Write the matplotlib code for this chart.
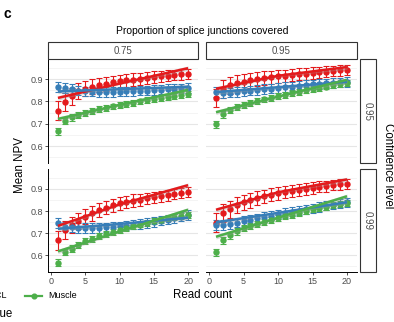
import numpy as np
import matplotlib.pyplot as plt
from matplotlib.lines import Line2D
from matplotlib.patches import Rectangle

plt.rcParams['font.family'] = ['Liberation Sans', 'DejaVu Sans']

read_count = np.arange(1, 21)
tissues = ["Fibroblast", "LCL", "Muscle"]
colors = ["#E41A1C", "#377EB8", "#4DAF4A"]
junction_levels = ["0.75", "0.95"]
confidence_levels = ["0.95", "0.99"]

# mean NPV per read count, confidence 0.95
fib_c95_j75 = [0.759, 0.797, 0.823, 0.845, 0.857, 0.866, 0.873, 0.879, 0.885, 0.890,
               0.894, 0.898, 0.902, 0.906, 0.909, 0.912, 0.915, 0.918, 0.921, 0.924]
lcl_c95_j75 = [0.866, 0.862, 0.855, 0.849, 0.846, 0.844, 0.843, 0.843, 0.843, 0.844,
               0.845, 0.846, 0.848, 0.849, 0.851, 0.853, 0.855, 0.857, 0.859, 0.861]
mus_c95_j75 = [0.666, 0.713, 0.729, 0.739, 0.750, 0.759, 0.766, 0.772, 0.778, 0.784,
               0.790, 0.795, 0.800, 0.805, 0.810, 0.815, 0.820, 0.825, 0.830, 0.835]
fib_c95_j95 = [0.816, 0.855, 0.872, 0.882, 0.889, 0.895, 0.900, 0.904, 0.908, 0.912,
               0.915, 0.918, 0.921, 0.924, 0.927, 0.930, 0.933, 0.936, 0.939, 0.942]
lcl_c95_j95 = [0.843, 0.838, 0.840, 0.843, 0.846, 0.849, 0.852, 0.855, 0.858, 0.861,
               0.864, 0.867, 0.870, 0.873, 0.876, 0.878, 0.881, 0.883, 0.885, 0.887]
mus_c95_j95 = [0.698, 0.743, 0.762, 0.774, 0.785, 0.793, 0.801, 0.809, 0.816, 0.823,
               0.830, 0.837, 0.844, 0.850, 0.856, 0.862, 0.867, 0.872, 0.877, 0.882]

# mean NPV per read count, confidence 0.99
fib_c99_j75 = [0.668, 0.714, 0.737, 0.755, 0.775, 0.790, 0.805, 0.816, 0.826, 0.835,
               0.841, 0.847, 0.852, 0.857, 0.862, 0.867, 0.872, 0.877, 0.882, 0.887]
lcl_c99_j75 = [0.745, 0.730, 0.726, 0.724, 0.723, 0.723, 0.724, 0.726, 0.728, 0.731,
               0.734, 0.738, 0.742, 0.746, 0.751, 0.756, 0.762, 0.768, 0.775, 0.782]
mus_c99_j75 = [0.567, 0.615, 0.630, 0.648, 0.664, 0.675, 0.686, 0.696, 0.705, 0.714,
               0.723, 0.731, 0.739, 0.747, 0.755, 0.761, 0.767, 0.773, 0.778, 0.783]
fib_c99_j95 = [0.748, 0.790, 0.809, 0.826, 0.839, 0.849, 0.858, 0.866, 0.874, 0.881,
               0.886, 0.891, 0.896, 0.900, 0.905, 0.909, 0.913, 0.917, 0.921, 0.924]
lcl_c99_j95 = [0.737, 0.738, 0.742, 0.748, 0.755, 0.761, 0.767, 0.773, 0.780, 0.786,
               0.791, 0.797, 0.802, 0.808, 0.813, 0.818, 0.824, 0.829, 0.834, 0.839]
mus_c99_j95 = [0.615, 0.668, 0.691, 0.708, 0.722, 0.732, 0.742, 0.751, 0.760, 0.768,
               0.776, 0.784, 0.792, 0.800, 0.808, 0.814, 0.820, 0.826, 0.831, 0.836]

# error bar half-widths per tissue
fib_err = [0.042, 0.040, 0.038, 0.036, 0.034, 0.033, 0.032, 0.031, 0.030, 0.029,
           0.028, 0.028, 0.027, 0.026, 0.026, 0.025, 0.025, 0.024, 0.024, 0.023]
lcl_err = [0.022, 0.022, 0.022, 0.021, 0.021, 0.021, 0.021, 0.021, 0.021, 0.021,
           0.021, 0.021, 0.021, 0.021, 0.021, 0.021, 0.021, 0.021, 0.021, 0.021]
mus_err = [0.016, 0.015, 0.015, 0.014, 0.014, 0.014, 0.014, 0.013, 0.013, 0.013,
           0.013, 0.013, 0.013, 0.013, 0.013, 0.013, 0.013, 0.013, 0.013, 0.013]

# smoothed trend, evaluated at read counts 1, 10 and 20
fit_x = [1, 10, 20]
fit_band = [0.010, 0.005, 0.010]
fib_fit_c95_j75 = [0.816, 0.880, 0.949]
lcl_fit_c95_j75 = [0.845, 0.855, 0.866]
mus_fit_c95_j75 = [0.722, 0.785, 0.852]
fib_fit_c95_j95 = [0.857, 0.915, 0.954]
lcl_fit_c95_j95 = [0.842, 0.864, 0.888]
mus_fit_c95_j95 = [0.752, 0.822, 0.897]
fib_fit_c99_j75 = [0.733, 0.830, 0.917]
lcl_fit_c99_j75 = [0.720, 0.742, 0.770]
mus_fit_c99_j75 = [0.618, 0.708, 0.806]
fib_fit_c99_j95 = [0.806, 0.885, 0.943]
lcl_fit_c99_j95 = [0.749, 0.792, 0.840]
mus_fit_c99_j95 = [0.684, 0.770, 0.867]

means = {
    (0, 0): [fib_c95_j75, lcl_c95_j75, mus_c95_j75],
    (0, 1): [fib_c95_j95, lcl_c95_j95, mus_c95_j95],
    (1, 0): [fib_c99_j75, lcl_c99_j75, mus_c99_j75],
    (1, 1): [fib_c99_j95, lcl_c99_j95, mus_c99_j95],
}
fits = {
    (0, 0): [fib_fit_c95_j75, lcl_fit_c95_j75, mus_fit_c95_j75],
    (0, 1): [fib_fit_c95_j95, lcl_fit_c95_j95, mus_fit_c95_j95],
    (1, 0): [fib_fit_c99_j75, lcl_fit_c99_j75, mus_fit_c99_j75],
    (1, 1): [fib_fit_c99_j95, lcl_fit_c99_j95, mus_fit_c99_j95],
}
errs = [fib_err, lcl_err, mus_err]

W, H = 394, 322
fig = plt.figure(figsize=(W / 100, H / 100), dpi=100)

def fx(px):
    return px / W

def fy(py):
    return 1 - py / H

col_x = [(48, 198), (206, 357)]
row_y = [(59, 163), (169, 272)]
text_grey = "#4D4D4D"

for r in range(2):
    for c in range(2):
        x0, x1 = col_x[c]
        y0, y1 = row_y[r]
        ax = fig.add_axes([fx(x0), fy(y1), fx(x1 - x0), (y1 - y0) / H])
        ax.set_xlim(-0.45, 21.45)
        ax.set_ylim(0.525, 0.99)
        ax.set_yticks([0.6, 0.7, 0.8, 0.9])
        ax.set_yticks([0.55, 0.65, 0.75, 0.85, 0.95], minor=True)
        ax.set_xticks([0, 5, 10, 15, 20])
        ax.grid(True, axis='y', which='major', color='#E6E6E6', lw=0.8)
        ax.grid(True, axis='y', which='minor', color='#F0F0F0', lw=0.5)
        ax.set_axisbelow(True)
        for s in ax.spines.values():
            s.set_visible(False)
        ax.tick_params(which='minor', length=0)
        ax.tick_params(which='major', length=2.2, width=0.6, color='#333333',
                       labelsize=6.5, labelcolor=text_grey, pad=1.5)
        if c == 0:
            ax.spines['left'].set_visible(True)
            ax.spines['left'].set_linewidth(0.7)
        else:
            ax.tick_params(axis='y', left=False, labelleft=False)
        if r == 1:
            ax.spines['bottom'].set_visible(True)
            ax.spines['bottom'].set_linewidth(0.7)
        else:
            ax.tick_params(axis='x', bottom=False, labelbottom=False)

        for k in range(3):
            ax.errorbar(read_count, means[(r, c)][k], yerr=errs[k], fmt='o',
                        color=colors[k], ms=3.6, elinewidth=0.8, capsize=2.2,
                        capthick=0.8, zorder=2)
        for k in range(3):
            f = np.array(fits[(r, c)][k])
            b = np.array(fit_band)
            ax.fill_between(fit_x, f - b, f + b, color='#999999', alpha=0.35,
                            lw=0, zorder=3)
            ax.plot(fit_x, f, color=colors[k], lw=1.8, zorder=4,
                    solid_capstyle='butt')

# column strips
for c in range(2):
    x0, x1 = col_x[c]
    fig.add_artist(Rectangle((fx(x0), fy(59)), fx(x1 - x0), 17 / H,
                             transform=fig.transFigure, fill=False,
                             ec='#333333', lw=0.8))
    fig.text(fx((x0 + x1) / 2), fy(50.5), junction_levels[c], ha='center',
             va='center', fontsize=7, color=text_grey)

# row strips
for r in range(2):
    y0, y1 = row_y[r]
    fig.add_artist(Rectangle((fx(360), fy(y1)), fx(16), (y1 - y0) / H,
                             transform=fig.transFigure, fill=False,
                             ec='#333333', lw=0.8))
    fig.text(fx(368), fy((y0 + y1) / 2), confidence_levels[r], ha='center',
             va='center', fontsize=7, color=text_grey, rotation=-90)

fig.text(fx(202.5), fy(31), "Proportion of splice junctions covered",
         ha='center', va='center', fontsize=7.5)
fig.text(fx(388), fy(165.5), "Confidence level", ha='center', va='center',
         fontsize=8.3, rotation=-90)
fig.text(fx(20), fy(165.5), "Mean NPV", ha='center', va='center',
         fontsize=8.3, rotation=90)
fig.text(fx(202.5), fy(295), "Read count", ha='center', va='center',
         fontsize=8.3)
fig.text(fx(3), fy(14), "c", ha='left', va='center', fontsize=10,
         fontweight='bold')

# legend row, running off the left edge
key_x = [-95, -33, 25]
for k in range(3):
    x = key_x[k]
    fig.add_artist(Line2D([fx(x), fx(x + 17)], [fy(296), fy(296)],
                          transform=fig.transFigure, color=colors[k], lw=1.6))
    fig.add_artist(Line2D([fx(x + 8.5)], [fy(296)], transform=fig.transFigure,
                          color=colors[k], marker='o', ms=3.4))
    fig.text(fx(x + 23), fy(296), tissues[k], ha='left', va='center',
             fontsize=6.5)
fig.text(fx(13), fy(314), "Tissue", ha='right', va='center', fontsize=8.3)

fig.savefig("out.png", dpi=100)
